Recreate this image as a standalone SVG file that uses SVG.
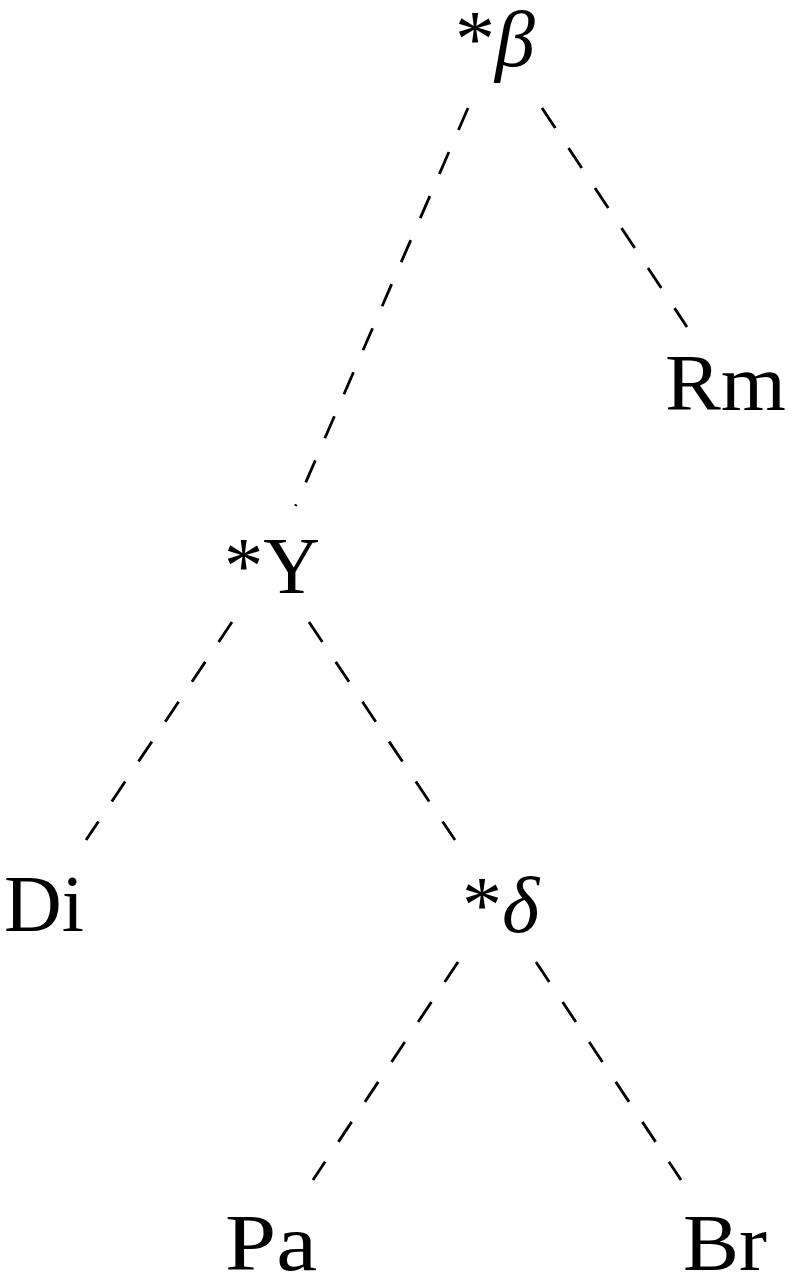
<svg xmlns="http://www.w3.org/2000/svg" width="791" height="1278" viewBox="0 0 791 1278">
<style>
.lbl{font-family:"Liberation Serif","Times New Roman",serif;font-size:80px;fill:#000}
.it{font-style:italic}
.edge{stroke:#000;stroke-width:2.8;stroke-dasharray:24 24;fill:none;stroke-linecap:butt}
</style>
<rect width="791" height="1278" fill="#fff"/>
<g id="connectors">
<line class="edge" x1="468" y1="108" x2="295.5" y2="506"/>
<line class="edge" x1="542" y1="108" x2="687" y2="327"/>
<line class="edge" x1="232" y1="622" x2="86" y2="840"/>
<line class="edge" x1="309" y1="622" x2="455" y2="840"/>
<line class="edge" x1="458" y1="962" x2="313" y2="1180"/>
<line class="edge" x1="536" y1="962" x2="681" y2="1180"/>
</g>
<g id="node-beta"><text class="lbl" x="455" y="66">*<tspan class="it">β</tspan></text></g>
<g id="node-Rm"><text class="lbl" x="665" y="410" textLength="121" lengthAdjust="spacingAndGlyphs">Rm</text></g>
<g id="node-Y"><text class="lbl" x="224" y="593" textLength="96" lengthAdjust="spacingAndGlyphs">*Y</text></g>
<g id="node-Di"><text class="lbl" x="4" y="931">Di</text></g>
<g id="node-delta"><text class="lbl" x="462" y="932">*<tspan class="it">δ</tspan></text></g>
<g id="node-Pa"><text class="lbl" x="225" y="1270" textLength="92" lengthAdjust="spacingAndGlyphs">Pa</text></g>
<g id="node-Br"><text class="lbl" x="683" y="1270" textLength="84" lengthAdjust="spacingAndGlyphs">Br</text></g>
</svg>
